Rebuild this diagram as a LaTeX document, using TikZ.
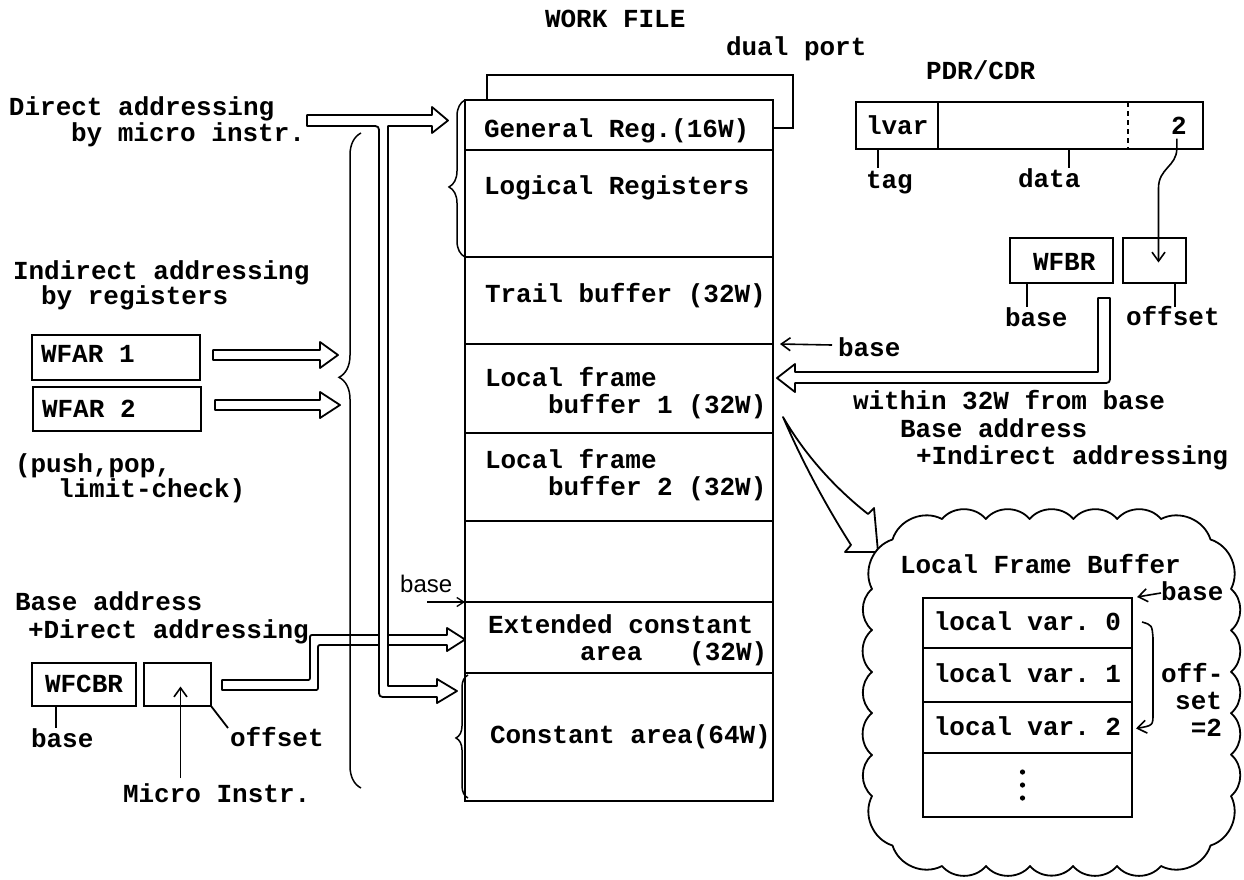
\documentclass[tikz,border=0pt]{standalone}
\usepackage{fontspec}
\setmonofont{Liberation Mono}
\newfontfamily\handfont{Liberation Sans}
\usetikzlibrary{arrows.meta,calc,decorations.pathreplacing}

\tikzset{
  lbl/.style={font=\fontsize{26}{30}\selectfont\ttfamily\bfseries, inner sep=0pt, outer sep=0pt,
              text height=15pt, text depth=0pt, anchor=west},
  lblr/.style={lbl, anchor=east},
  cell/.style={draw, line width=2pt, inner sep=0pt, outer sep=0pt},
  celltxt/.style={cell, font=\fontsize{26}{30}\selectfont\ttfamily\bfseries, text height=15pt, text depth=0pt},
  tick/.style={line width=1.8pt},
  hollow/.style={draw, fill=white, line width=1.8pt, line join=round},
  ptr/.style={line width=1.6pt, -{Straight Barb[length=9pt,width=13pt,line width=1.6pt]}},
  brc/.style={line width=1.5pt, decorate},
  puffline/.style={draw, fill=white, line width=1.8pt, line join=round},
  puff/.style={bend left=50},
}

\begin{document}
\begin{tikzpicture}[x=1pt,y=-1pt]
\fill[white] (0,0) rectangle (1244,879);
\useasboundingbox (0,0) rectangle (1244,879);

% ---------------- work file ----------------
\node[lbl] (wftitle) at (545,20) {WORK FILE};
\node[lbl] (dualport) at (726,48) {dual port};

\node[cell, minimum width=308, minimum height=50]  (gr)  at (619,125)   {};
\node[cell, minimum width=308, minimum height=107] (lr)  at (619,203.5) {};
\node[cell, minimum width=308, minimum height=87]  (tb)  at (619,300.5) {};
\node[cell, minimum width=308, minimum height=89]  (lf1) at (619,388.5) {};
\node[cell, minimum width=308, minimum height=88]  (lf2) at (619,477)   {};
\node[cell, minimum width=308, minimum height=81]  (em)  at (619,561.5) {};
\node[cell, minimum width=308, minimum height=71]  (ec)  at (619,637.5) {};
\node[cell, minimum width=308, minimum height=128] (ca)  at (619,737)   {};

\node[lbl] (grt)  at (484,130) {General Reg.(16W)};
\node[lbl] (lrt)  at (484,187) {Logical Registers};
\node[lbl] (tbt)  at (485,295) {Trail buffer (32W)};
\node[lbl] (lf1a) at (485,379) {Local frame};
\node[lbl] (lf1b) at (548,406) {buffer 1 (32W)};
\node[lbl] (lf2a) at (485,461) {Local frame};
\node[lbl] (lf2b) at (548,488) {buffer 2 (32W)};
\node[lbl] (eca)  at (488,626) {Extended constant};
\node[lbl] (ecb)  at (580,653) {area\ \ \ (32W)};
\node[lbl] (cat)  at (490,736) {Constant area(64W)};

% dual port loop
\draw[tick] ($(gr.north west)+(22,0)$) |- ($(gr.north east)+(20,-25)$) |- ($(gr.east)+(0,3)$);

% braces beside the table
\draw[brc, decoration={brace, amplitude=16pt, aspect=0.446}] (gr.north west |- lr.south) -- (gr.north west);
\draw[brc, decoration={brace, amplitude=12pt, aspect=0.488}] ($(ca.south west)+(3,-3)$) -- ($(ca.north west)+(3,2)$);

% ---------------- left side ----------------
\node[lbl] (da1) at (9,108)  {Direct addressing};
\node[lbl] (da2) at (71,134) {by micro instr.};

\node[lbl] (ia1) at (13,272) {Indirect addressing};
\node[lbl] (ia2) at (41,297) {by registers};
\node[cell, minimum width=168, minimum height=45] (wfar1) at (116,357.5) {};
\node[cell, minimum width=168, minimum height=44] (wfar2) at (117,409) {};
\node[lbl] (wfar1t) at (41,355) {WFAR 1};
\node[lbl] (wfar2t) at (42,410) {WFAR 2};
\node[lbl] (pp1) at (15,465) {(push,pop,};
\node[lbl] (pp2) at (58,490) {limit-check)};

\node[lbl] (ba1) at (15,603) {Base address};
\node[lbl] (ba2) at (28,631) {+Direct addressing};
\node[cell, minimum width=104, minimum height=43] (wfcbr) at (84,684.5) {};
\node[lbl] (wfcbrt) at (45,685) {WFCBR};
\node[cell, minimum width=67, minimum height=43] (offc) at (177.5,684.5) {};
\node[lbl] (basel) at (31,740) {base};
\node[lbl] (offl) at (230,739) {offset};
\node[lbl] (micro) at (123,795) {Micro Instr.};

\draw[tick] ($(wfcbr.south west)+(24,0)$) -- ++(0,22);
\draw[tick] (offc.south east) -- ++(17,22);
\draw[ptr] ($(offc.south)+(3,72)$) -- ($(offc.center)+(3,2)$);

% indirect addressing arrows into the long brace
\draw[hollow] (213,350) -- (320,350) -- (320,342) -- (338,355) -- (320,368) -- (320,360) -- (213,360) -- cycle;
\draw[hollow] (215,400) -- (320,400) -- (320,392) -- (340,405) -- (320,418) -- (320,410) -- (215,410) -- cycle;

% base + direct addressing arrow (stepped)
\draw[hollow] (222,680) -- (306,680) .. controls (310,680) .. (310,676) -- (310,639)
  .. controls (310,635) .. (314,635) -- (447,635) -- (447,628) -- (465,639.5) -- (447,651)
  -- (447,645) -- (322,645) .. controls (318,645) .. (318,649) -- (318,686)
  .. controls (318,690) .. (314,690) -- (222,690) -- cycle;

% long brace over all addressing modes
\draw[brc, decoration={brace, amplitude=22pt, aspect=0.627}] (361,788) -- (361,133);

% direct addressing arrow with its branch down to the constant area
\draw[hollow] (307,115) -- (432,115) -- (432,107) -- (448,120.5) -- (432,133) -- (432,126)
  -- (388,126) -- (388,686) -- (437,686) -- (437,679) -- (457,691) -- (437,703) -- (437,697)
  -- (387,697) .. controls (379,697) .. (379,689) -- (379,134) .. controls (379,126) .. (371,126)
  -- (307,126) -- cycle;

% base of the extended constant area
\node[font=\handfont\fontsize{24}{28}\selectfont, inner sep=0pt, anchor=base west] (hbase) at (400,592) {base};
\draw[line width=1.3pt, -{Straight Barb[length=7pt,width=9pt,line width=1.3pt]}] ($(ec.north west)+(-38,0)$) -- (ec.north west);

% ---------------- PDR/CDR ----------------
\node[lbl] (pdrt) at (926,72) {PDR/CDR};
\node[cell, minimum width=347, minimum height=47] (pdr) at (1029.5,125.5) {};
\draw[line width=2pt] ($(pdr.north west)+(82,0)$) -- ($(pdr.south west)+(82,0)$);
\draw[line width=1.5pt, dash pattern=on 5pt off 4pt] ($(pdr.north west)+(272,0)$) -- ($(pdr.south west)+(272,0)$);
\node[lbl] (lvar) at (866,127) {lvar};
\node[lbl] (two) at (1171,127) {2};
\draw[tick] ($(pdr.south west)+(22,0)$) -- ++(0,19);
\draw[tick] ($(pdr.south west)+(213,0)$) -- ++(0,19);
\node[lbl] (tag) at (866,181) {tag};
\node[lbl] (data) at (1018,180) {data};

\node[cell, minimum width=103, minimum height=45] (wfbr) at (1061.5,260.5) {};
\node[lbl] (wfbrt) at (1033,263) {WFBR};
\node[cell, minimum width=63, minimum height=45] (offb) at (1154.5,260.5) {};
\draw[tick] ($(wfbr.south west)+(17,0)$) -- ++(0,24);
\draw[tick] ($(offb.south west)+(52,0)$) -- ++(0,24);
\node[lbl] (wbase) at (1005,319) {base};
\node[lbl] (woff) at (1126,318) {offset};

\draw[ptr] ($(two.south)+(-2,4)$) -- ++(0,10) .. controls +(0,18) and +(0,-20) .. ($(offb.north)+(4,-50)$) -- ($(offb.center)+(4,2)$);

% base address + indirect addressing into local frame buffer 1
\draw[hollow] (1098,298) -- (1110,298) -- (1110,375) .. controls (1110,383) .. (1102,383)
  -- (795,383) -- (795,392) -- (777,378) -- (795,364) -- (795,372) -- (1098,372) -- cycle;
\node[lbl] (lbase) at (838,349) {base};
\draw[ptr] (lbase.west) ++(-6,-4) -- ($(tb.south east)+(7,0)$);
\node[lbl] (w1) at (853,402) {within 32W from base};
\node[lbl] (w2) at (900,430) {Base address};
\node[lbl] (w3) at (916,457) {+Indirect addressing};

% ---------------- local frame buffer detail ----------------
\draw[hollow] (783,417) .. controls (805,455) and (835,488) .. (868,514) -- (874,508) -- (878,552)
  -- (845,552) -- (851,545) .. controls (830,512) and (805,468) .. (783,417) -- cycle;

% scalloped outline round the detail
\coordinate (cl) at (1051.5,692.5);
\draw[puffline] (942,519)
  \foreach \px/\py in {985.8/519, 1029.6/519, 1073.4/519, 1117.2/519, 1161/519,
                       1210.5/539.5, 1231/589,
                       1231/630.4, 1231/671.8, 1231/713.2, 1231/754.6, 1231/796,
                       1210.5/845.5, 1161/866,
                       1117/866, 1073/866, 1030/866, 986/866, 942/866,
                       892.5/845.5, 872/796,
                       872/755, 872/713, 872/672, 872/630, 872/589,
                       892.5/539.5, 942/519}
  { to[puff] (\px,\py) } -- cycle;

\node[lbl] (lfbt) at (900,566) {Local Frame Buffer};
\node[celltxt, minimum width=209, minimum height=50] (lv0) at (1027.5,623) {local var. 0};
\node[celltxt, minimum width=209, minimum height=54] (lv1) at (1027.5,675) {local var. 1};
\node[celltxt, minimum width=209, minimum height=51] (lv2) at (1027.5,727.5) {local var. 2};
\node[cell, minimum width=209, minimum height=64] (lvd) at (1027.5,785) {};
\fill ($(lvd.center)+(-5,-13)$) circle (2.6);
\fill ($(lvd.center)+(-5,0)$) circle (2.6);
\fill ($(lvd.center)+(-5,13)$) circle (2.6);

\node[lbl] (cbase) at (1161,593) {base};
\draw[ptr] (cbase.west) -- ($(lv0.north east)+(5,-1)$);
\draw[ptr] ($(lv0.east)+(10,-1)$) .. controls +(10,3) .. ($(lv0.east)+(21,15)$) -- ($(lv2.east)+(21,-14)$) .. controls +(0,12) .. ($(lv2.east)+(4,1)$);
\node[lbl] (off1) at (1161,675) {off-};
\node[lblr] (off2) at (1222,702) {set};
\node[lblr] (off3) at (1222,729) {=2};
\end{tikzpicture}
\end{document}
